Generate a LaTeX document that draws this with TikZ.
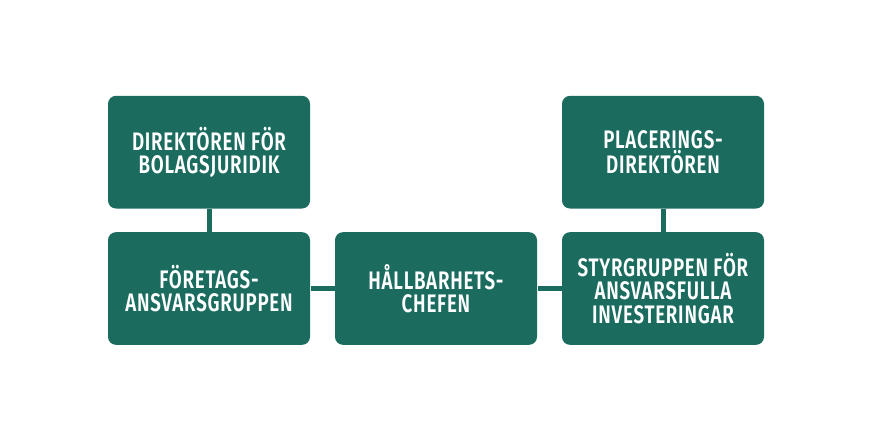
\documentclass[tikz,border=0pt]{standalone}
\usepackage{fontspec}
\usetikzlibrary{positioning}
\newfontfamily\boxfont[FakeStretch=0.74,LetterSpace=3,Ligatures=NoCommon]{Fira Sans SemiBold}
\definecolor{teal}{RGB}{27,108,95}

\tikzset{every picture/.style={line width=0.75pt}}
\tikzset{
  rolebox/.style={fill=teal, draw=none, rounded corners=6pt, minimum width=151.5pt, minimum height=84.5pt,
    text=white, align=center, font=\boxfont\fontsize{19}{17.5}\selectfont},
  link/.style={draw=teal, line width=3.75pt}
}

\begin{document}
\begin{tikzpicture}[x=0.75pt,y=0.75pt,yscale=-1,xscale=1]
\useasboundingbox (0,0) rectangle (870,440);

%Shape: Rectangle - middle
\node [rolebox] (chefen) at (436,288.5) {HÅLLBARHETS-\\CHEFEN};
%Shape: Rectangle - left column
\node [rolebox, left=18pt of chefen] (foretag) {FÖRETAGS-\\ANSVARSGRUPPEN};
\node [rolebox, above=17pt of foretag] (juridik) {DIREKTÖREN FÖR\\BOLAGSJURIDIK};
%Shape: Rectangle - right column
\node [rolebox, right=18pt of chefen] (styr) {STYRGRUPPEN FÖR\\ANSVARSFULLA\\INVESTERINGAR};
\node [rolebox, above=17pt of styr] (placering) {PLACERINGS-\\DIREKTÖREN};

%Straight Lines
\draw [link] (juridik) -- (foretag);
\draw [link] (foretag) -- (chefen);
\draw [link] (chefen) -- (styr);
\draw [link] (placering) -- (styr);

\end{tikzpicture}
\end{document}
